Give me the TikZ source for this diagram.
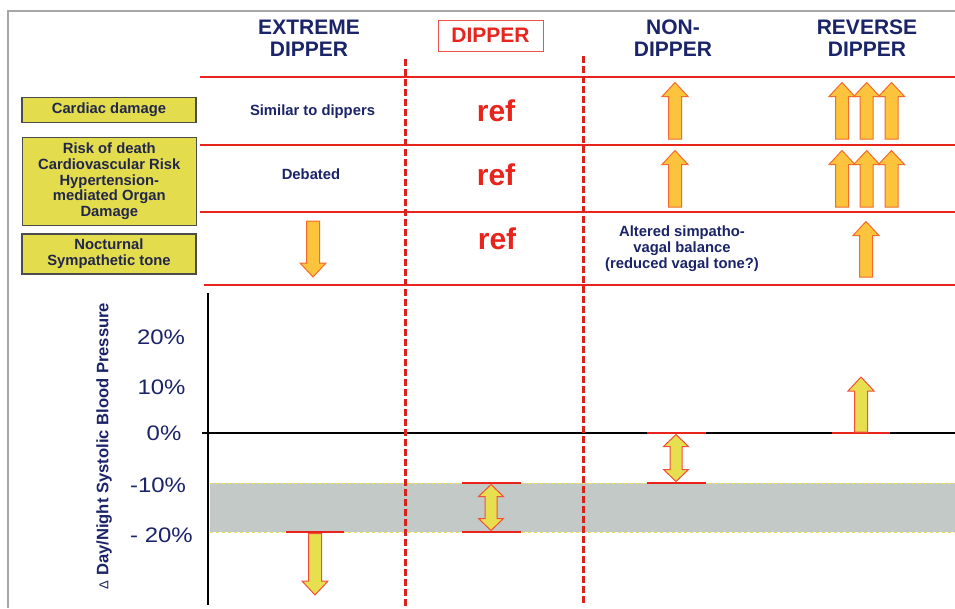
\documentclass[tikz,border=0pt]{standalone}
\usepackage{fontspec}
\setmainfont{Liberation Sans}
\newfontfamily\tickfont[FakeStretch=1.14]{Liberation Sans}
\definecolor{navy}{HTML}{1B2468}
\definecolor{boxtxt}{HTML}{22264A}
\definecolor{lred}{HTML}{E8241C}
\definecolor{dred}{HTML}{D8231C}
\definecolor{boxyel}{HTML}{E3DD4E}
\definecolor{gold}{HTML}{FCC43C}
\definecolor{goldedge}{HTML}{F26A2C}
\definecolor{ayel}{HTML}{E7DF50}
\definecolor{aedge}{HTML}{F0503A}
\definecolor{band}{HTML}{C2C9C7}
\definecolor{bandedge}{HTML}{E8E060}
% block arrows: x, y-start, y-tip, style
\newcommand{\blkup}[4]{\filldraw[#4] (#1-6.5,#2) -- (#1-6.5,#3+14) -- (#1-13,#3+14) -- (#1,#3) -- (#1+13,#3+14) -- (#1+6.5,#3+14) -- (#1+6.5,#2) -- cycle;}
\newcommand{\blkdown}[4]{\filldraw[#4] (#1-6.5,#2) -- (#1-6.5,#3-14) -- (#1-13,#3-14) -- (#1,#3) -- (#1+13,#3-14) -- (#1+6.5,#3-14) -- (#1+6.5,#2) -- cycle;}
\newcommand{\blkboth}[4]{\filldraw[#4] (#1,#2) -- (#1+12.5,#2+12) -- (#1+6,#2+12) -- (#1+6,#3-12) -- (#1+12.5,#3-12) -- (#1,#3) -- (#1-12.5,#3-12) -- (#1-6,#3-12) -- (#1-6,#2+12) -- (#1-12.5,#2+12) -- cycle;}
\begin{document}
\begin{tikzpicture}[x=1pt,y=-1pt,
  hdr/.style={font=\bfseries\fontsize{21}{22.4}\selectfont, text=navy, align=center, inner sep=0},
  lbl/.style={draw=black!70, line width=1.2pt, fill=boxyel, minimum width=174pt, inner sep=0, align=center, font=\bfseries\fontsize{14.8}{15.7}\selectfont, text=boxtxt},
  cell/.style={font=\bfseries\fontsize{14.8}{16}\selectfont, text=navy, align=center, inner sep=0},
  reftxt/.style={font=\bfseries\fontsize{30}{32}\selectfont, text=lred, anchor=base, inner sep=0},
  tick/.style={font=\tickfont\fontsize{21}{23}\selectfont, text=navy, anchor=base, inner sep=0},
  rowline/.style={lred, line width=2pt},
  colline/.style={dred, line width=3pt, dash pattern=on 7pt off 3pt},
  gold arrow/.style={fill=gold, draw=goldedge, line width=1pt},
  chart arrow/.style={fill=ayel, draw=aedge, line width=1pt},
  bar/.style={lred, line width=2pt}
]
\useasboundingbox (0,0) rectangle (955,608);
\fill[white] (0,0) rectangle (955,608);
% frame
\draw[gray!70, line width=1.5pt] (8,608) -- (8,11) -- (955,11);
% normal dipping band
\fill[band] (210,483) rectangle (955,532);
\draw[bandedge, dashed, line width=0.8pt] (210,483) -- (955,483) (210,532) -- (955,532);
% axes
\draw[black, line width=2pt] (202,433) -- (955,433);
\draw[black, line width=2.5pt] (208,293) -- (208,605);
% row lines
\draw[rowline] (200,77) -- (955,77);
\draw[rowline] (200,145) -- (955,145);
\draw[rowline] (200,212) -- (955,212);
\draw[rowline] (204,285) -- (955,285);
% column separators
\draw[colline] (405,59) -- (405,606);
\draw[colline] (583,56) -- (583,604);
% headers
\node[hdr] (hExt) at (309,38.3) {EXTREME\\DIPPER};
\node[draw=lred!80, line width=0.9pt, minimum width=105pt, minimum height=31pt, inner sep=0, font=\bfseries\fontsize{21}{22}\selectfont, text=lred] (hDip) at (490.5,35.5) {DIPPER};
\node[hdr] (hNon) at (673,38.3) {NON-\\DIPPER};
\node[hdr] (hRev) at (867,38.3) {REVERSE\\DIPPER};
% row labels
\node[lbl, minimum height=25pt] (bCard) at (109,110.2) {Cardiac damage};
\node[lbl, minimum height=88pt] (bRisk) at (109.3,181.5) {Risk of death\\Cardiovascular Risk\\Hypertension-\\mediated Organ\\Damage};
\node[lbl, minimum height=40pt] (bNoct) at (109,254) {Nocturnal\\Sympathetic tone};
% cells
\node[cell, anchor=base] (cSim) at (312.5,115.5) {Similar to dippers};
\node[cell, anchor=base] (cDeb) at (311,179.3) {Debated};
\node[cell] (cAlt) at (682,249) {Altered simpatho-\\vagal balance\\(reduced vagal tone?)};
\node[reftxt] (r1) at (496,121.7) {ref};
\node[reftxt] (r2) at (496,185.7) {ref};
\node[reftxt] (r3) at (497,249.3) {ref};
% table arrows
\blkup{675}{139}{82.5}{gold arrow}
\blkup{842}{139}{82.5}{gold arrow}
\blkup{866.7}{139}{82.5}{gold arrow}
\blkup{891.5}{139}{82.5}{gold arrow}
\blkup{675}{207}{150.5}{gold arrow}
\blkup{842}{207}{150.5}{gold arrow}
\blkup{866.7}{207}{150.5}{gold arrow}
\blkup{891.5}{207}{150.5}{gold arrow}
\blkdown{313}{221}{277}{gold arrow}
\blkup{866}{277}{221.5}{gold arrow}
% y axis labels
\node[tick] (t20) at (161,344) {20\%};
\node[tick] (t10) at (161.5,394) {10\%};
\node[tick] (t0) at (164,440) {0\%};
\node[tick] (tm10) at (158,492) {-10\%};
\node[tick] (tm20) at (161.5,542) {- 20\%};
\node[font=\bfseries\fontsize{16.6}{19}\selectfont, text=navy, rotate=90, inner sep=0] (ylab) at (104,446) {{\mdseries\fontsize{13}{13}\selectfont Δ} Day/Night Systolic Blood Pressure};
% chart markers
\draw[bar] (286,532) -- (344,532);
\blkdown{315}{533.5}{595}{chart arrow}
\draw[bar] (462,483) -- (521,483) (462,532) -- (521,532);
\blkboth{491}{484.5}{530.5}{chart arrow}
\draw[bar] (647,433) -- (706,433) (647,483) -- (706,483);
\blkboth{676}{434.5}{481.5}{chart arrow}
\draw[bar] (832,433) -- (890,433);
\blkup{861}{432}{377}{chart arrow}
\end{tikzpicture}
\end{document}
